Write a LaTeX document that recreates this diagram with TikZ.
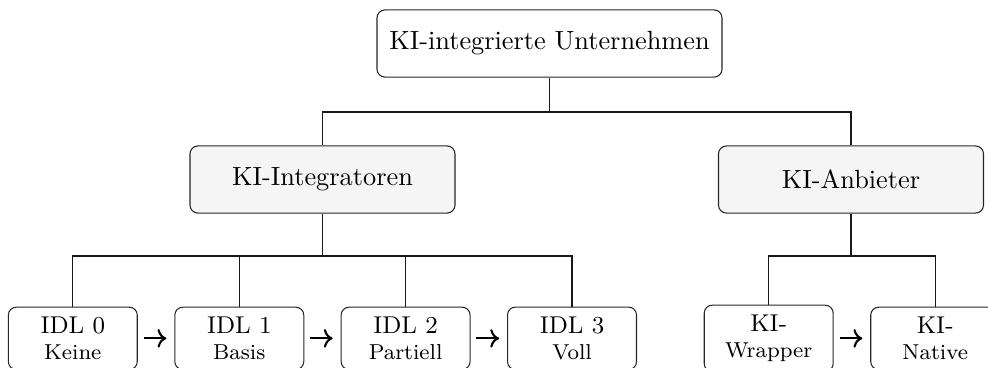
\documentclass[tikz,border=0pt]{standalone}
\usetikzlibrary{arrows.meta}
\begin{document}
\begin{tikzpicture}[x=0.38pt,y=-0.38pt,
  box/.style={draw=black!85, line width=0.4pt, rounded corners=3pt, align=center},
  topbox/.style={box, fill=white, font=\fontsize{10}{12}\selectfont, minimum width=131.1pt, minimum height=25.5pt, inner sep=1pt},
  midbox/.style={box, fill=gray!8, font=\fontsize{10}{12}\selectfont, minimum width=100.7pt, minimum height=25.5pt, inner sep=1pt},
  leafbox/.style={box, fill=white, font=\fontsize{9.23}{10.15}\selectfont, minimum width=49pt, inner xsep=2pt, inner ysep=3.57pt},
  sub/.style={},
  edge/.style={draw=black!90, line width=0.5pt},
  flow/.style={->, thick, shorten <=2.2pt, shorten >=3pt}
]
\useasboundingbox (0,0) rectangle (988,367);
\clip (0,0) rectangle (988,367);

\node[topbox] (top) at (549.5,43.5) {KI-integrierte Unternehmen};
\node[midbox] (int) at (322.5,179.5) {KI-Integratoren};
\node[midbox] (anb) at (851,179.5) {KI-Anbieter};

\newcommand{\subl}[1]{{\fontsize{8.2}{10.15}\selectfont #1}}
\node[leafbox] (i0) at (72.8,338.35) {IDL 0\\\subl{Keine}};
\node[leafbox] (i1) at (239.3,338.35) {IDL 1\\\subl{Basis}};
\node[leafbox] (i2) at (405.6,338.35) {IDL 2\\\subl{Partiell}};
\node[leafbox] (i3) at (572,338.35) {IDL 3\\\subl{Voll}};
\node[leafbox] (w) at (768.7,338.35) {KI-\\\subl{Wrapper}};
\node[leafbox] (n) at (935.2,338.35) {KI-\\\subl{Native}};

\coordinate (b1) at (549.5,112);
\coordinate (b2) at (322.5,256);
\coordinate (b3) at (851,256);

\draw[edge] (top.south) -- (b1);
\draw[edge] (b1) -| (int.north);
\draw[edge] (b1) -| (anb.north);
\draw[edge] (int.south) -- (b2);
\draw[edge] (b2) -| (i0.north);
\draw[edge] (b2) -| (i1.north);
\draw[edge] (b2) -| (i2.north);
\draw[edge] (b2) -| (i3.north);
\draw[edge] (anb.south) -- (b3);
\draw[edge] (b3) -| (w.north);
\draw[edge] (b3) -| (n.north);

\draw[flow] (i0.east) -- (i1.west);
\draw[flow] (i1.east) -- (i2.west);
\draw[flow] (i2.east) -- (i3.west);
\draw[flow] (w.east) -- (n.west);
\end{tikzpicture}
\end{document}
